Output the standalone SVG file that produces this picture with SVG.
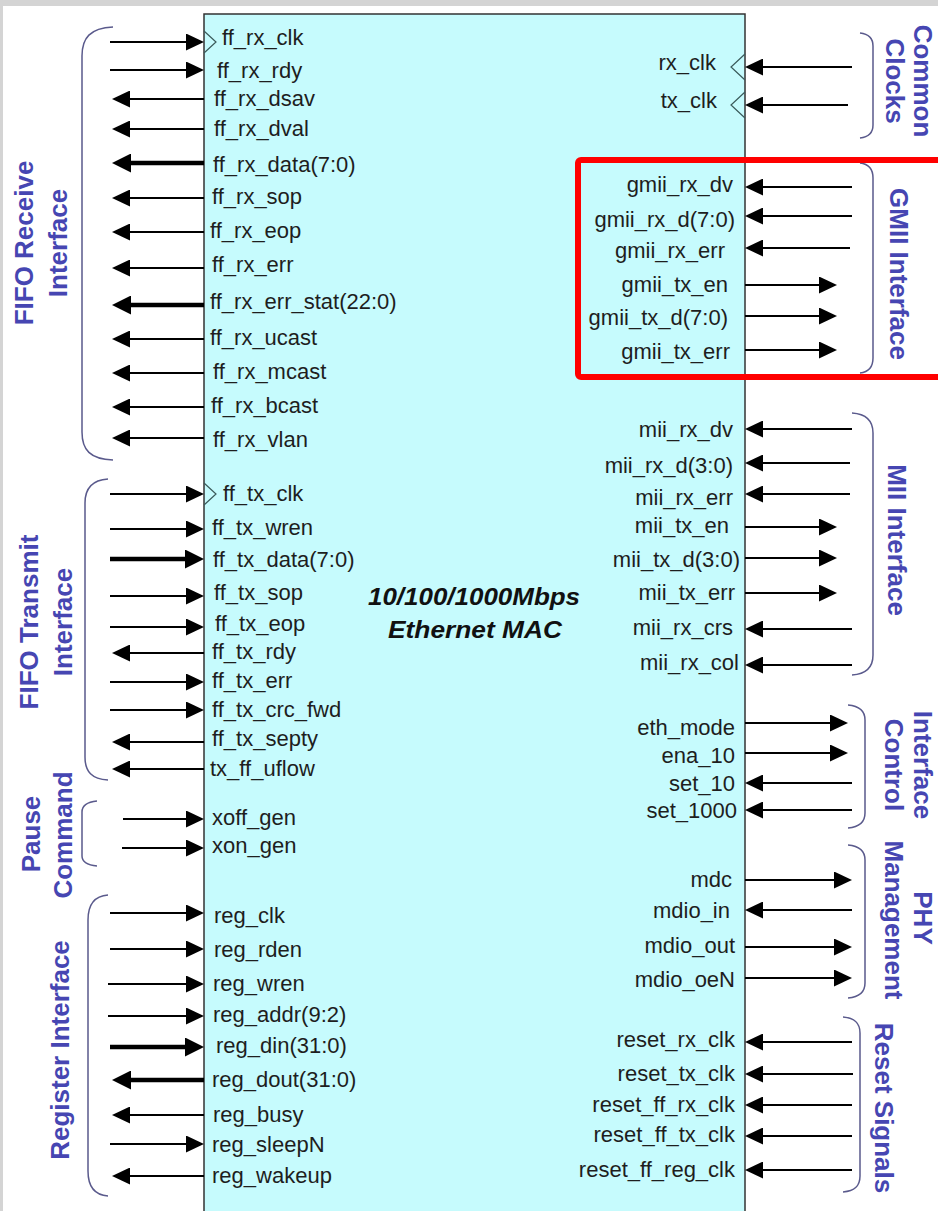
<svg xmlns="http://www.w3.org/2000/svg" width="938" height="1211" viewBox="0 0 938 1211">
<style>
.lbl{font-family:"Liberation Sans",Arial,sans-serif;font-size:22px;fill:#1e1e1e}
.r{text-anchor:end}
.grp{font-family:"Liberation Sans",Arial,sans-serif;font-size:26px;font-weight:bold;fill:#4646b2;text-anchor:middle}
.ttl{font-family:"Liberation Sans",Arial,sans-serif;font-size:24px;font-weight:bold;font-style:italic;fill:#111;text-anchor:middle}
.br{fill:none;stroke:#5a5a8c;stroke-width:1.5}
.w{stroke:#000;stroke-width:1.8;fill:none;marker-end:url(#ah)}
.t{stroke:#000;stroke-width:4.5;fill:none;marker-end:url(#ahb)}
.clk{fill:none;stroke:#3a5a5a;stroke-width:1.2}
</style>
<defs>
<marker id="ah" viewBox="0 0 18 17" refX="8" refY="8.5" markerWidth="18" markerHeight="17" markerUnits="userSpaceOnUse" orient="auto"><path d="M0,0 L18,8.5 L0,17 z" fill="#000"/></marker>
<marker id="ahb" viewBox="0 0 19 19" refX="9" refY="9.5" markerWidth="19" markerHeight="19" markerUnits="userSpaceOnUse" orient="auto"><path d="M0,0 L19,9.5 L0,19 z" fill="#000"/></marker>
</defs>
<rect x="0" y="0" width="938" height="1211" fill="#d4d4d4"/>
<rect x="3" y="6" width="935" height="1205" fill="#ffffff"/>

<g id="mac">
<rect x="204" y="14" width="541" height="1210" fill="#c6fbfd" stroke="#333" stroke-width="1.5"/>
<path class="clk" d="M204,31 L216,42 L204,53"/>
<path class="clk" d="M204,483 L216,494 L204,505"/>
<path class="clk" d="M745,54 L731,67 L745,80"/>
<path class="clk" d="M745,92 L731,105 L745,118"/>
<text class="ttl" x="474" y="605" textLength="212" lengthAdjust="spacingAndGlyphs">10/100/1000Mbps</text>
<text class="ttl" x="475" y="638" textLength="174" lengthAdjust="spacingAndGlyphs">Ethernet MAC</text>
<g id="left-ports">
<text class="lbl" x="222" y="45">ff_rx_clk</text>
<text class="lbl" x="217" y="78">ff_rx_rdy</text>
<text class="lbl" x="214" y="106">ff_rx_dsav</text>
<text class="lbl" x="214" y="136">ff_rx_dval</text>
<text class="lbl" x="213" y="172">ff_rx_data(7:0)</text>
<text class="lbl" x="212" y="204">ff_rx_sop</text>
<text class="lbl" x="210" y="238">ff_rx_eop</text>
<text class="lbl" x="212" y="272">ff_rx_err</text>
<text class="lbl" x="210" y="309">ff_rx_err_stat(22:0)</text>
<text class="lbl" x="210" y="345">ff_rx_ucast</text>
<text class="lbl" x="213" y="379">ff_rx_mcast</text>
<text class="lbl" x="211" y="413">ff_rx_bcast</text>
<text class="lbl" x="213" y="447">ff_rx_vlan</text>
<text class="lbl" x="223" y="501">ff_tx_clk</text>
<text class="lbl" x="212" y="535">ff_tx_wren</text>
<text class="lbl" x="213" y="567">ff_tx_data(7:0)</text>
<text class="lbl" x="214" y="600">ff_tx_sop</text>
<text class="lbl" x="215" y="631">ff_tx_eop</text>
<text class="lbl" x="212" y="659">ff_tx_rdy</text>
<text class="lbl" x="212" y="688">ff_tx_err</text>
<text class="lbl" x="212" y="717">ff_tx_crc_fwd</text>
<text class="lbl" x="212" y="746">ff_tx_septy</text>
<text class="lbl" x="210" y="776">tx_ff_uflow</text>
<text class="lbl" x="212" y="825">xoff_gen</text>
<text class="lbl" x="212" y="853">xon_gen</text>
<text class="lbl" x="214" y="923">reg_clk</text>
<text class="lbl" x="214" y="957">reg_rden</text>
<text class="lbl" x="213" y="991">reg_wren</text>
<text class="lbl" x="213" y="1022">reg_addr(9:2)</text>
<text class="lbl" x="216" y="1053">reg_din(31:0)</text>
<text class="lbl" x="212" y="1087">reg_dout(31:0)</text>
<text class="lbl" x="213" y="1122">reg_busy</text>
<text class="lbl" x="212" y="1152">reg_sleepN</text>
<text class="lbl" x="212" y="1183">reg_wakeup</text>
</g>
<g id="right-ports">
<text class="lbl r" x="716" y="70">rx_clk</text>
<text class="lbl r" x="717" y="108">tx_clk</text>
<text class="lbl r" x="733" y="192">gmii_rx_dv</text>
<text class="lbl r" x="735" y="227">gmii_rx_d(7:0)</text>
<text class="lbl r" x="725" y="258">gmii_rx_err</text>
<text class="lbl r" x="728" y="292">gmii_tx_en</text>
<text class="lbl r" x="728" y="325">gmii_tx_d(7:0)</text>
<text class="lbl r" x="730" y="359">gmii_tx_err</text>
<text class="lbl r" x="733" y="437">mii_rx_dv</text>
<text class="lbl r" x="733" y="473">mii_rx_d(3:0)</text>
<text class="lbl r" x="733" y="505">mii_rx_err</text>
<text class="lbl r" x="729" y="533">mii_tx_en</text>
<text class="lbl r" x="740" y="567">mii_tx_d(3:0)</text>
<text class="lbl r" x="735" y="600">mii_tx_err</text>
<text class="lbl r" x="733" y="635">mii_rx_crs</text>
<text class="lbl r" x="739" y="670">mii_rx_col</text>
<text class="lbl r" x="735" y="735">eth_mode</text>
<text class="lbl r" x="735" y="763">ena_10</text>
<text class="lbl r" x="735" y="791">set_10</text>
<text class="lbl r" x="737" y="818">set_1000</text>
<text class="lbl r" x="732" y="887">mdc</text>
<text class="lbl r" x="730" y="918">mdio_in</text>
<text class="lbl r" x="735" y="953">mdio_out</text>
<text class="lbl r" x="735" y="987">mdio_oeN</text>
<text class="lbl r" x="735" y="1047">reset_rx_clk</text>
<text class="lbl r" x="735" y="1081">reset_tx_clk</text>
<text class="lbl r" x="735" y="1112">reset_ff_rx_clk</text>
<text class="lbl r" x="735" y="1142">reset_ff_tx_clk</text>
<text class="lbl r" x="735" y="1177">reset_ff_reg_clk</text>
</g>
</g>

<g id="connectors">
<line class="w" x1="110" y1="42" x2="194" y2="42"/>
<line class="w" x1="110" y1="70" x2="194" y2="70"/>
<line class="w" x1="204" y1="99" x2="122" y2="99"/>
<line class="w" x1="204" y1="129" x2="122" y2="129"/>
<line class="t" x1="204" y1="163" x2="122" y2="163"/>
<line class="w" x1="204" y1="198" x2="122" y2="198"/>
<line class="w" x1="204" y1="232" x2="122" y2="232"/>
<line class="w" x1="204" y1="268" x2="122" y2="268"/>
<line class="t" x1="204" y1="305" x2="122" y2="305"/>
<line class="w" x1="204" y1="339" x2="122" y2="339"/>
<line class="w" x1="204" y1="373" x2="122" y2="373"/>
<line class="w" x1="204" y1="407" x2="122" y2="407"/>
<line class="w" x1="204" y1="438" x2="122" y2="438"/>
<line class="w" x1="110" y1="494" x2="194" y2="494"/>
<line class="w" x1="110" y1="529" x2="194" y2="529"/>
<line class="t" x1="110" y1="559" x2="194" y2="559"/>
<line class="w" x1="110" y1="596" x2="194" y2="596"/>
<line class="w" x1="110" y1="627" x2="194" y2="627"/>
<line class="w" x1="204" y1="653" x2="122" y2="653"/>
<line class="w" x1="110" y1="682" x2="194" y2="682"/>
<line class="w" x1="110" y1="710" x2="194" y2="710"/>
<line class="w" x1="204" y1="742" x2="122" y2="742"/>
<line class="w" x1="204" y1="769" x2="122" y2="769"/>
<line class="w" x1="123" y1="819" x2="194" y2="819"/>
<line class="w" x1="122" y1="848" x2="194" y2="848"/>
<line class="w" x1="110" y1="913" x2="194" y2="913"/>
<line class="w" x1="110" y1="949" x2="194" y2="949"/>
<line class="w" x1="108" y1="984" x2="194" y2="984"/>
<line class="w" x1="108" y1="1016" x2="194" y2="1016"/>
<line class="t" x1="110" y1="1047" x2="194" y2="1047"/>
<line class="t" x1="204" y1="1080" x2="122" y2="1080"/>
<line class="w" x1="204" y1="1115" x2="122" y2="1115"/>
<line class="w" x1="110" y1="1144" x2="194" y2="1144"/>
<line class="w" x1="204" y1="1176" x2="122" y2="1176"/>

<line class="w" x1="852" y1="67" x2="755" y2="67"/>
<line class="w" x1="848" y1="105" x2="755" y2="105"/>
<line class="w" x1="852" y1="187" x2="755" y2="187"/>
<line class="w" x1="852" y1="216" x2="755" y2="216"/>
<line class="w" x1="850" y1="248" x2="755" y2="248"/>
<line class="w" x1="745" y1="285" x2="827" y2="285"/>
<line class="w" x1="745" y1="316" x2="827" y2="316"/>
<line class="w" x1="745" y1="350" x2="827" y2="350"/>
<line class="w" x1="852" y1="429" x2="755" y2="429"/>
<line class="w" x1="850" y1="463" x2="755" y2="463"/>
<line class="w" x1="850" y1="494" x2="755" y2="494"/>
<line class="w" x1="745" y1="527" x2="827" y2="527"/>
<line class="w" x1="745" y1="558" x2="827" y2="558"/>
<line class="w" x1="745" y1="593" x2="827" y2="593"/>
<line class="w" x1="852" y1="629" x2="755" y2="629"/>
<line class="w" x1="852" y1="665" x2="755" y2="665"/>
<line class="w" x1="745" y1="723" x2="838" y2="723"/>
<line class="w" x1="745" y1="753" x2="838" y2="753"/>
<line class="w" x1="852" y1="783" x2="755" y2="783"/>
<line class="w" x1="852" y1="810" x2="755" y2="810"/>
<line class="w" x1="745" y1="880" x2="842" y2="880"/>
<line class="w" x1="852" y1="910" x2="755" y2="910"/>
<line class="w" x1="745" y1="947" x2="842" y2="947"/>
<line class="w" x1="745" y1="978" x2="842" y2="978"/>
<line class="w" x1="852" y1="1042" x2="755" y2="1042"/>
<line class="w" x1="853" y1="1074" x2="755" y2="1074"/>
<line class="w" x1="852" y1="1105" x2="755" y2="1105"/>
<line class="w" x1="852" y1="1136" x2="755" y2="1136"/>
<line class="w" x1="852" y1="1170" x2="755" y2="1170"/>
</g>

<g id="grp-fifo-rx">
<path class="br" d="M113,27 C90,28 82,38 82,56 L82,432 C82,450 90,459 113,460"/>
<text class="grp" transform="translate(33,243) rotate(-90)">FIFO Receive</text>
<text class="grp" transform="translate(67,243) rotate(-90)">Interface</text>
</g>
<g id="grp-fifo-tx">
<path class="br" d="M108,479 C92,480 85,488 85,503 L85,757 C85,772 92,779 108,780"/>
<text class="grp" transform="translate(38,622) rotate(-90)">FIFO Transmit</text>
<text class="grp" transform="translate(72,622) rotate(-90)">Interface</text>
</g>
<g id="grp-pause">
<path class="br" d="M97,801 C87,802 82,805 82,812 L82,856 C82,862 87,865 97,866"/>
<text class="grp" transform="translate(40,834) rotate(-90)">Pause</text>
<text class="grp" transform="translate(72,835) rotate(-90)">Command</text>
</g>
<g id="grp-reg">
<path class="br" d="M108,895 C94,896 88,905 88,920 L88,1171 C88,1186 94,1195 108,1196"/>
<text class="grp" transform="translate(69,1050) rotate(-90)">Register Interface</text>
</g>
<g id="grp-clocks">
<path class="br" d="M860,33 C869,34 873,38 873,46 L873,125 C873,133 869,137 860,138"/>
<text class="grp" transform="translate(914,81) rotate(90)">Common</text>
<text class="grp" transform="translate(886,81) rotate(90)">Clocks</text>
</g>
<g id="grp-gmii">
<path class="br" d="M860,163 C869,164 873,169 873,178 L873,358 C873,367 869,372 860,373"/>
<text class="grp" transform="translate(890,274) rotate(90)">GMII Interface</text>
</g>
<g id="grp-mii">
<path class="br" d="M852,413 C867,414 873,421 873,433 L873,655 C873,667 867,674 852,675"/>
<text class="grp" transform="translate(888,540) rotate(90)">MII Interface</text>
</g>
<g id="grp-ifctl">
<path class="br" d="M848,705 C860,706 865,711 865,720 L865,813 C865,822 860,827 848,828"/>
<text class="grp" transform="translate(914,765) rotate(90)">Interface</text>
<text class="grp" transform="translate(885,765) rotate(90)">Control</text>
</g>
<g id="grp-phy">
<path class="br" d="M848,845 C860,846 865,851 865,860 L865,983 C865,992 860,997 848,998"/>
<text class="grp" transform="translate(914,918) rotate(90)">PHY</text>
<text class="grp" transform="translate(885,920) rotate(90)">Management</text>
</g>
<g id="grp-reset">
<path class="br" d="M843,1017 C855,1018 860,1023 860,1033 L860,1176 C860,1186 855,1191 843,1192"/>
<text class="grp" transform="translate(875,1108) rotate(90)">Reset Signals</text>
</g>

<rect id="highlight" x="578" y="160" width="400" height="217" rx="3" fill="none" stroke="#ff0000" stroke-width="6"/>
</svg>
